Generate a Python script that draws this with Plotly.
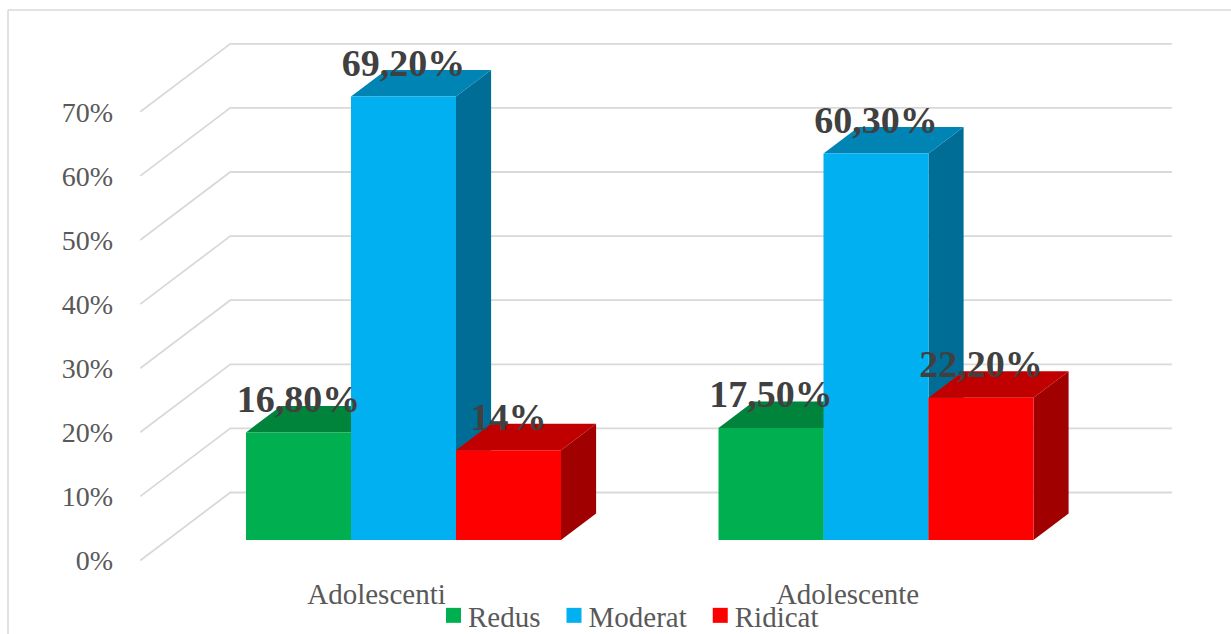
import plotly.graph_objects as go

# Data
categories = ["Adolescenti", "Adolescente"]
category_label_positions = [0, 0.997]
series_names = ["Redus", "Moderat", "Ridicat"]
redus = [16.8, 17.5]
moderat = [69.2, 60.3]
ridicat = [14.0, 22.2]
redus_labels = ["16,80%", "17,50%"]
moderat_labels = ["69,20%", "60,30%"]
ridicat_labels = ["14%", "22,20%"]
y_ticks = [0, 10, 20, 30, 40, 50, 60, 70]
y_tick_labels = ["0%", "10%", "20%", "30%", "40%", "50%", "60%", "70%"]

# Colours: front, top and side face of each series
face_colors = {
    "Redus": ("#00B050", "#00843C", "#006A30"),
    "Moderat": ("#00B0F0", "#0084B4", "#006D96"),
    "Ridicat": ("#FF0000", "#C00000", "#A00000"),
}
GRID = "#D9D9D9"
TEXT = "#595959"
SERIF = "Liberation Serif"

# Scale of the plot area, in pixels
W, H = 1231, 634
L, R, T, B = 114, 1180, 30, 634
AXIS_PX = 574
X_FRONT, CAT_W = 140.25, 472.5
Y_ZERO, PX_PER_PCT = 560.5, 6.41
FLOOR_LEFT, FLOOR_RIGHT = -0.5, 1.493


def px_to_x(px):
    return (px - X_FRONT) / CAT_W - 0.5


def px_to_y(px):
    return (Y_ZERO - px) / PX_PER_PCT


# Oblique projection: a full step of depth moves a point right and up
DEPTH_DX = 90 / CAT_W
DEPTH_DY = 68 / PX_PER_PCT
BAR_W = 105 / CAT_W
BAR_NEAR = 0.30
BAR_FAR = 0.69


def project(x, value, depth):
    return x + depth * DEPTH_DX, value + depth * DEPTH_DY


def polygons(faces):
    xs, ys = [], []
    for face in faces:
        for p in face + [face[0]]:
            xs.append(p[0])
            ys.append(p[1])
        xs.append(None)
        ys.append(None)
    return xs, ys


def bar_faces(x0, x1, v):
    front = [project(x0, 0, BAR_NEAR), project(x1, 0, BAR_NEAR),
             project(x1, v, BAR_NEAR), project(x0, v, BAR_NEAR)]
    top = [project(x0, v, BAR_NEAR), project(x1, v, BAR_NEAR),
           project(x1, v, BAR_FAR), project(x0, v, BAR_FAR)]
    side = [project(x1, 0, BAR_NEAR), project(x1, 0, BAR_FAR),
            project(x1, v, BAR_FAR), project(x1, v, BAR_NEAR)]
    return front, top, side


fig = go.Figure()

# Floor/side wall diagonals and back wall lines
grid_x, grid_y = [], []
for t in y_ticks:
    for p in (project(FLOOR_LEFT, t, 0), project(FLOOR_LEFT, t, 1),
              project(FLOOR_RIGHT, t, 1)):
        grid_x.append(p[0])
        grid_y.append(p[1])
    grid_x.append(None)
    grid_y.append(None)
fig.add_trace(go.Scatter(x=grid_x, y=grid_y, mode="lines", showlegend=False,
                         hoverinfo="skip", line=dict(color=GRID, width=1.8)))

# Bars, left to right so each one covers the side of the previous one
series_values = [redus, moderat, ridicat]
for s, (name, values) in enumerate(zip(series_names, series_values)):
    offset = (s - 1.5) * BAR_W
    fronts, tops, sides = [], [], []
    for c, v in enumerate(values):
        front, top, side = bar_faces(c + offset, c + offset + BAR_W, v)
        fronts.append(front)
        tops.append(top)
        sides.append(side)
    front_c, top_c, side_c = face_colors[name]
    for faces, color in ((sides, side_c), (tops, top_c), (fronts, front_c)):
        xs, ys = polygons(faces)
        fig.add_trace(go.Scatter(x=xs, y=ys, mode="lines", fill="toself",
                                 fillcolor=color, line=dict(width=0),
                                 showlegend=False, hoverinfo="skip"))

# Value labels above each bar
LABEL_LIFT = 30 / PX_PER_PCT
series_labels = [redus_labels, moderat_labels, ridicat_labels]
for s, (values, labels) in enumerate(zip(series_values, series_labels)):
    xs, ys = [], []
    for c, v in enumerate(values):
        x, y = project(c + (s - 1) * BAR_W, v, BAR_NEAR)
        xs.append(x)
        ys.append(y + LABEL_LIFT)
    fig.add_trace(go.Scatter(x=xs, y=ys, mode="text", text=labels,
                             textposition="middle center", showlegend=False,
                             hoverinfo="skip", cliponaxis=False,
                             textfont=dict(family=SERIF, size=38, color="#404040",
                                           weight="bold")))

# Legend keys
for name in series_names:
    fig.add_trace(go.Scatter(x=[None], y=[None], mode="markers", name=name,
                             marker=dict(symbol="square", size=15,
                                         color=face_colors[name][0])))

# Chart border along the left and top edges
frame = dict(color=GRID, width=1.5)
fig.add_shape(type="line", xref="paper", yref="paper", layer="below", line=frame,
              x0=(8 - L) / (R - L), x1=(8 - L) / (R - L),
              y0=0, y1=(B - 10) / (B - T))
fig.add_shape(type="line", xref="paper", yref="paper", layer="below", line=frame,
              x0=(8 - L) / (R - L), x1=(W - L) / (R - L),
              y0=(B - 10) / (B - T), y1=(B - 10) / (B - T))

fig.update_layout(
    width=W,
    height=H,
    autosize=False,
    margin=dict(l=L, r=W - R, t=T, b=H - B, pad=0),
    paper_bgcolor="white",
    plot_bgcolor="white",
    hovermode=False,
    font=dict(family=SERIF, color=TEXT),
    xaxis=dict(range=[px_to_x(L), px_to_x(R)], tickmode="array",
               tickvals=category_label_positions,
               ticktext=categories, showgrid=False, zeroline=False, showline=False,
               anchor="free", position=(B - AXIS_PX) / (B - T),
               ticks="", tickfont=dict(family=SERIF, size=29, color=TEXT)),
    yaxis=dict(range=[px_to_y(B), px_to_y(T)], tickmode="array", tickvals=y_ticks,
               ticktext=y_tick_labels, showgrid=False, zeroline=False, showline=False,
               ticks="", tickfont=dict(family=SERIF, size=28, color=TEXT)),
    legend=dict(orientation="h", xanchor="left", yanchor="middle",
                x=(432 - L) / (R - L), y=(B - 607) / (B - T), itemwidth=33,
                bgcolor="rgba(0,0,0,0)", borderwidth=0,
                font=dict(family=SERIF, size=29, color=TEXT)),
)

# Pull the legend names in closer to their keys and let the legend sit
# against the bottom edge without shrinking the plot area
tweak_legend = """
document.querySelectorAll('.legendtext').forEach(function (t) {
    t.setAttribute('x', 36);
});
var legend = document.querySelector('.legend');
var m = /translate\\(([-\\d.]+),\\s*([-\\d.]+)\\)/.exec(legend.getAttribute('transform'));
legend.setAttribute('transform',
    'translate(' + m[1] + ',' + (parseFloat(m[2]) + 8.5) + ')');
"""

fig.write_html("out.html", post_script=tweak_legend)
